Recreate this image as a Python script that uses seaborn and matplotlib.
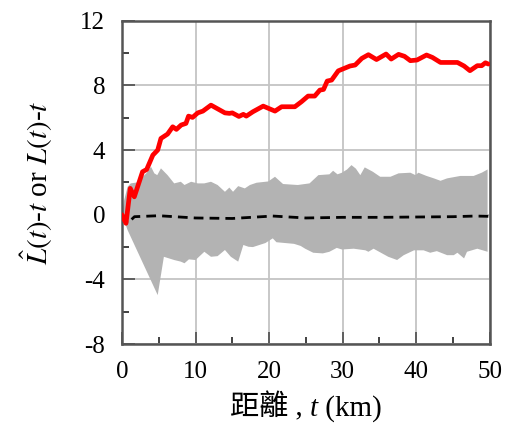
import numpy as np
import pandas as pd
import matplotlib
matplotlib.use("Agg")
import matplotlib.pyplot as plt
import seaborn as sns
from matplotlib.offsetbox import TextArea, HPacker, AnchoredOffsetbox

# Observed L-function estimate, L^(t) - t
obs_t = [0, 0.55, 1.13, 1.68, 2.8, 3.36, 4.2, 4.86, 5.3, 6.2, 6.9, 7.4, 8.05, 8.7,
         9.05, 9.6, 10.3, 11.0, 12.1, 14.0, 14.6, 15.0, 15.9, 16.5, 16.9, 17.8,
         19.2, 20.8, 21.7, 23.5, 24.4, 25.3, 26.2, 26.9, 27.4, 27.9, 28.5, 29.4,
         31.0, 31.7, 32.6, 33.5, 34.6, 35.9, 36.6, 37.6, 38.4, 39.2, 40.1, 41.4,
         42.2, 43.3, 45.6, 46.5, 47.3, 48.3, 48.9, 49.4, 49.8]
obs_val = [0, -0.53, 1.63, 1.11, 2.66, 2.8, 3.69, 4.0, 4.72, 4.99, 5.44, 5.28, 5.55,
           5.65, 6.1, 6.02, 6.3, 6.41, 6.78, 6.3, 6.27, 6.3, 6.08, 6.21, 6.1, 6.37,
           6.72, 6.41, 6.68, 6.68, 6.99, 7.34, 7.34, 7.71, 7.75, 8.27, 8.33, 8.9,
           9.2, 9.26, 9.67, 9.9, 9.6, 9.94, 9.63, 9.92, 9.8, 9.53, 9.57, 9.88,
           9.73, 9.42, 9.42, 9.2, 8.91, 9.22, 9.22, 9.4, 9.32]

# Expected value under complete spatial randomness, L(t) - t
exp_t = [0, 0.77, 1.7, 5, 10, 15, 20.5, 25, 30, 35, 40, 45, 48, 50]
exp_val = [0, -0.53, -0.12, -0.06, -0.2, -0.23, -0.08, -0.2, -0.16, -0.16, -0.14,
           -0.12, -0.08, -0.1]

# Simulation envelope (upper and lower bounds)
env_up_t = [0, 0.3, 0.77, 1.2, 2.1, 3.3, 3.95, 4.4, 4.8, 5.3, 6.2, 7.1, 8.0, 8.5,
            9.4, 10.3, 11.2, 12.1, 13.0, 14.0, 14.6, 15.1, 15.8, 16.7, 17.4, 18.3,
            19.9, 20.8, 21.9, 23.9, 25.5, 26.7, 28.2, 28.7, 29.3, 29.9, 30.6, 31.2,
            31.8, 32.4, 33.0, 34.1, 35.1, 36.5, 37.6, 39.2, 39.9, 40.3, 41.4, 42.4,
            43.3, 44.2, 46.0, 47.8, 48.9, 49.7]
env_up_val = [0, 0.9, 1.73, 1.94, 2.0, 2.56, 2.97, 2.56, 2.45, 2.87, 2.45, 1.94, 2.04,
              1.84, 2.04, 1.94, 1.94, 2.04, 1.84, 1.42, 1.68, 1.42, 1.77, 1.63, 1.84,
              1.98, 2.06, 2.35, 1.9, 1.84, 1.94, 2.45, 2.5, 2.72, 2.5, 2.6, 2.8, 3.07,
              2.85, 2.45, 2.93, 2.66, 2.35, 2.35, 2.56, 2.6, 2.45, 2.6, 2.4, 2.25,
              2.1, 2.25, 2.4, 2.4, 2.6, 2.8]
env_lo_t = [0, 0.77, 4.86, 5.7, 7.1, 8.0, 8.5, 9.1, 10.0, 11.2, 12.1, 13.0, 14.0,
            14.8, 15.8, 16.5, 17.2, 17.8, 19.5, 20.5, 21.0, 23.4, 24.3, 24.9, 26.0,
            27.3, 28.2, 29.2, 29.9, 31.5, 33.1, 33.5, 34.2, 36.2, 37.4, 38.3, 39.7,
            41.0, 41.9, 42.8, 44.2, 45.1, 45.6, 46.5, 46.9, 48.3, 49.7]
env_lo_val = [0, -0.95, -4.97, -2.6, -2.8, -2.9, -3.0, -2.76, -2.8, -2.29, -2.6, -2.56,
              -2.18, -2.6, -2.9, -1.87, -1.98, -2.0, -1.75, -1.46, -1.7, -1.8, -1.93,
              -2.1, -2.35, -2.39, -2.29, -2.05, -2.15, -2.1, -2.2, -2.29, -2.1, -2.6,
              -2.8, -2.5, -2.2, -2.2, -2.35, -2.25, -2.5, -2.5, -2.35, -2.7, -2.29,
              -2.1, -2.29]

x_ticks = [0, 10, 20, 30, 40, 50]
y_ticks = [-8, -4, 0, 4, 8, 12]

sns.set_theme(style="white")
plt.rcParams["font.family"] = ["Liberation Serif", "Noto Sans CJK TC"]
plt.rcParams["mathtext.fontset"] = "stix"
for key in ("text.color", "axes.labelcolor", "xtick.labelcolor", "ytick.labelcolor"):
    plt.rcParams[key] = "black"

fig = plt.figure(figsize=(5.06, 4.32), dpi=100)
ax = fig.add_axes([0.241, 0.2035, 0.727, 0.7485])

# envelope polygon: upper bound forward, lower bound back
poly_t = np.concatenate([env_up_t, env_lo_t[::-1]])
poly_v = np.concatenate([env_up_val, env_lo_val[::-1]])
ax.fill(poly_t, poly_v, color="#b3b3b3", lw=0, zorder=2)

obs = pd.DataFrame({"t": obs_t, "v": obs_val})
exp = pd.DataFrame({"t": exp_t, "v": exp_val})
sns.lineplot(data=exp, x="t", y="v", ax=ax, color="black", lw=2.0,
             linestyle=(0, (3.5, 2.2)), sort=False, estimator=None, zorder=3)
sns.lineplot(data=obs, x="t", y="v", ax=ax, color="#ff0000", lw=3.4,
             sort=False, estimator=None, zorder=4)

ax.set_xlim(0, 50)
ax.set_ylim(-8, 12)
ax.set_xticks(x_ticks)
ax.set_yticks(y_ticks)
ax.set_xticks([5, 15, 25, 35, 45], minor=True)
ax.set_yticks([-6, -2, 2, 6, 10], minor=True)
ax.set_xticklabels([str(v) for v in x_ticks])
ax.set_yticklabels([str(v) for v in y_ticks])

ax.grid(True, which="major", color="#c4c4c4", lw=1.3, zorder=0)
ax.set_axisbelow(True)
ax.tick_params(which="major", direction="in", length=9, width=1.3, color="#555555",
               labelsize=18, labelcolor="black", pad=12,
               left=True, bottom=True, right=False, top=False)
ax.tick_params(which="minor", direction="in", length=5, width=1.3, color="#333333",
               left=True, bottom=True, right=False, top=False)
for s in ax.spines.values():
    s.set_color("#555555")
    s.set_linewidth(1.8)

ax.set_xlabel("")
ax.set_ylabel(r"$\hat{L}(t)$-$t$ or $L(t)$-$t$", fontsize=21, labelpad=18,
              color="black")

# x-axis label assembled from upright and italic pieces
fam = ["Liberation Serif", "Noto Sans CJK TC"]
parts = [
    TextArea("距離 , ", textprops=dict(fontsize=21, family=fam, color="black")),
    TextArea("t", textprops=dict(fontsize=21, family=fam, style="italic",
                                 color="black")),
    TextArea(" (km)", textprops=dict(fontsize=21, family=fam, color="black")),
]
pack = HPacker(children=parts, align="baseline", pad=0, sep=0)
ab = AnchoredOffsetbox(loc="upper center", child=pack, frameon=False, pad=0,
                       borderpad=0, bbox_to_anchor=(0.5, -0.15),
                       bbox_transform=ax.transAxes)
ax.add_artist(ab)

fig.savefig("out.png", dpi=100)
